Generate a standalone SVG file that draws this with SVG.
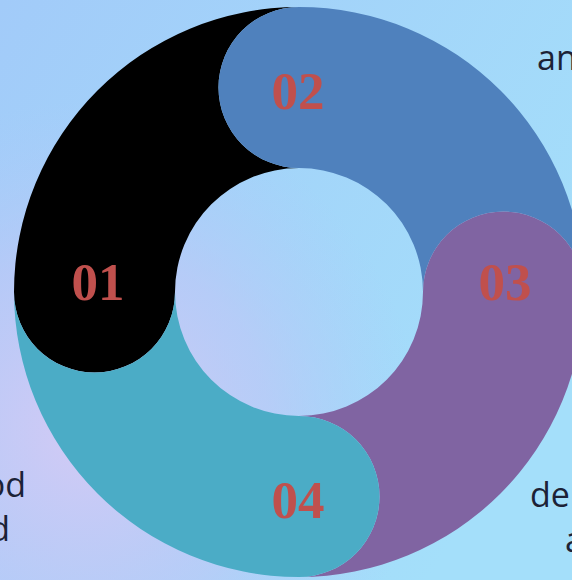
<svg xmlns="http://www.w3.org/2000/svg" width="572" height="580" viewBox="0 0 572 580">
  <defs>
    <linearGradient id="bgLin" gradientUnits="userSpaceOnUse" x1="0" y1="0" x2="572" y2="340">
      <stop offset="0" stop-color="#a2cbf9"/>
      <stop offset="1" stop-color="#a4dffa"/>
    </linearGradient>
    <radialGradient id="bgRad" gradientUnits="userSpaceOnUse" cx="90" cy="430" r="330">
      <stop offset="0" stop-color="#d4caf5" stop-opacity="1"/>
      <stop offset="0.55" stop-color="#c2c6f6" stop-opacity="0.6"/>
      <stop offset="1" stop-color="#b0c8f8" stop-opacity="0"/>
    </radialGradient>
    <path id="seg" d="M 0 -285 A 285 285 0 0 0 -285 0 A 80.5 80.5 0 0 0 -124 0 A 124 124 0 0 1 0 -124 A 80.5 80.5 0 0 1 0 -285 Z"/>
  </defs>
  <style>
    .num { font-family: "Liberation Serif", "Times New Roman", serif; font-weight: bold; font-size: 53px; fill: #c0504d; text-anchor: middle; }
    .side { font-family: "Open Sans", "Liberation Sans", sans-serif; font-size: 34px; fill: #1c2236; }
  </style>
  <rect width="572" height="580" fill="url(#bgLin)"/>
  <rect width="572" height="580" fill="url(#bgRad)"/>

  <g id="node-01">
    <use href="#seg" transform="translate(299 292)" fill="#000000"/>
    <text class="num" x="98" y="300">01</text>
  </g>
  <g id="node-02">
    <use href="#seg" transform="translate(299 292) rotate(90)" fill="#4f81bd"/>
    <text class="num" x="298" y="109">02</text>
  </g>
  <g id="node-03">
    <use href="#seg" transform="translate(299 292) rotate(180)" fill="#8064a2"/>
    <text class="num" x="505" y="300">03</text>
  </g>
  <g id="node-04">
    <use href="#seg" transform="translate(299 292) rotate(-90)" fill="#4bacc6"/>
    <text class="num" x="298" y="518">04</text>
  </g>

  <g id="side-texts">
    <text class="side" x="537" y="70">an</text>
    <text class="side" x="26" y="497" text-anchor="end">od</text>
    <text class="side" x="10" y="541" text-anchor="end">d</text>
    <text class="side" x="530" y="507">de</text>
    <text class="side" x="565" y="552">a</text>
  </g>
</svg>
